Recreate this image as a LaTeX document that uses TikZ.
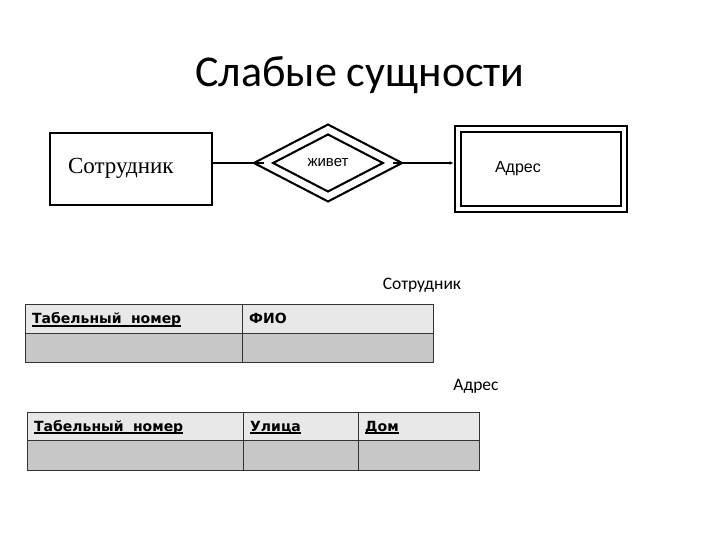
\documentclass[tikz,border=0pt]{standalone}
\usepackage{fontspec}
\setmainfont{Carlito}
\newfontfamily\erserif{Liberation Serif}
\newfontfamily\ersans{Liberation Sans}
\newfontfamily\tabfont{DejaVu Sans}
\usetikzlibrary{positioning, shapes.geometric, arrows.meta}
\definecolor{headfill}{gray}{0.91}
\definecolor{rowfill}{gray}{0.78}
\newcommand{\keyattr}[1]{\setbox0\hbox{#1}\rlap{\rule[-2.8pt]{\wd0}{1.8pt}}\box0}

\begin{document}
\begin{tikzpicture}[
  x=1pt, y=-1pt,
  entity/.style={rectangle, draw, line width=2pt, minimum height=72pt, inner ysep=0pt, align=left},
  weakentity/.style={rectangle, draw, line width=2pt, double, double distance=4pt, minimum height=80pt, inner ysep=0pt, align=left},
  relation/.style={diamond, draw, line width=2.2pt, double, double distance=6.5pt, minimum width=129pt, minimum height=67pt, inner sep=0pt, outer sep=0pt},
  hcell/.style={rectangle, draw=black!80, fill=headfill, anchor=north west, inner xsep=7pt, inner ysep=0pt, text height=11pt, text depth=0.5pt, align=left, font=\tabfont\bfseries\fontsize{14}{16}\selectfont},
  dcell/.style={rectangle, draw=black!80, fill=rowfill, anchor=north west, inner sep=0pt},
  caption/.style={font=\fontsize{17.5}{20}\selectfont},
]
\useasboundingbox (0,0) rectangle (720,540);

\node[font=\fontsize{44}{50}\selectfont, anchor=base] (title) at (360,87) {Слабые сущности};

% ER diagram
\node[entity, text width=126pt, inner xsep=18pt] (emp) at (131,169) {\raisebox{7pt}{\erserif\fontsize{23}{26}\selectfont Сотрудник}};
\node[relation] (lives) at (328,163) {\raisebox{2pt}{\ersans\fontsize{15}{18}\selectfont живет}};
\node[weakentity, text width=91pt, inner xsep=37.5pt] (addr) at (540.5,169) {\ersans\fontsize{16}{19}\selectfont Адрес};

\draw[line width=1.5pt] (emp.east |- lives.west) -- (lives.west);
\draw[line width=1.5pt, -{Latex[length=4pt,width=4pt]}, shorten >=3pt] (lives.east) -- (lives.east -| addr.west);

% relations
\node[caption] (empcap) at (422,285) {Сотрудник};
\node[hcell, text width=203pt, minimum height=29pt] (t1key) at (25,304) {\keyattr{Табельный~~номер}};
\node[hcell, text width=177pt, minimum height=29pt] (t1fio) at (242,304) {ФИО};
\node[dcell, minimum width=217pt, minimum height=29pt] (t1keyval) at (25,333) {};
\node[dcell, minimum width=191pt, minimum height=29pt] (t1fioval) at (242,333) {};

\node[caption] (addrcap) at (476,386) {Адрес};
\node[hcell, text width=202pt, minimum height=28pt] (t2key) at (27,412) {\keyattr{Табельный~~номер}};
\node[hcell, text width=101pt, minimum height=28pt] (t2street) at (243,412) {\keyattr{Улица}};
\node[hcell, text width=107pt, minimum height=28pt] (t2house) at (358,412) {\keyattr{Дом}};
\node[dcell, minimum width=216pt, minimum height=30pt] (t2keyval) at (27,440) {};
\node[dcell, minimum width=115pt, minimum height=30pt] (t2streetval) at (243,440) {};
\node[dcell, minimum width=121pt, minimum height=30pt] (t2houseval) at (358,440) {};
\end{tikzpicture}
\end{document}
